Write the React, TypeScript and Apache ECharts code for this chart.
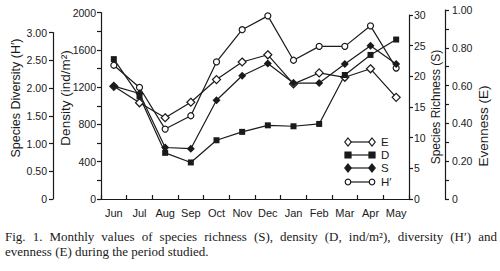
import React, { useEffect, useRef } from "react";
import * as echarts from "echarts";

const months = ["Jun", "Jul", "Aug", "Sep", "Oct", "Nov", "Dec", "Jan", "Feb", "Mar", "Apr", "May"];
const densityD = [1500, 1100, 495, 392, 630, 720, 790, 780, 805, 1330, 1545, 1710];
const richnessS = [18.4, 17.2, 8.4, 8.2, 16.1, 20.1, 22.1, 18.9, 18.9, 22.0, 25.0, 22.0];
const diversityH = [2.41, 2.01, 1.26, 1.5, 2.47, 3.05, 3.3, 2.5, 2.75, 2.75, 3.12, 2.36];
const evennessE = [0.596, 0.509, 0.43, 0.512, 0.632, 0.725, 0.763, 0.609, 0.667, 0.644, 0.689, 0.538];
const legendItems = ["E", "D", "S", "H\u2032"];
const axisNames = ["Species Diversity (H\u2032)", "Density (ind/m\u00B2)", "Species Richness (S)", "Evenness (E)"];
const captionLines = [
  "Fig. 1. Monthly values of species richness (S), density (D, ind/m\u00B2), diversity (H\u2032) and",
  "evenness (E) during the period studied.",
];

const SANS = "'Liberation Sans', Arial, sans-serif";
const SERIF = "'Liberation Serif', 'Times New Roman', serif";
const INK = "#1a1a1a";
const CAP_FONT = `13px ${SERIF}`;

const GL = 101;
const GR = 91;
const GB = 72;

function justifiedWords(line: string, x0: number, x1: number, y: number) {
  const words = line.split(" ");
  const cv = document.createElement("canvas");
  const ctx = cv.getContext("2d");
  let widths = words.map((w) => w.length * 6);
  if (ctx) {
    ctx.font = CAP_FONT;
    widths = words.map((w) => ctx.measureText(w).width);
  }
  const total = widths.reduce((a, b) => a + b, 0);
  const gap = (x1 - x0 - total) / Math.max(1, words.length - 1);
  let x = x0;
  return words.map((w, i) => {
    const el = {
      type: "text",
      x,
      y,
      style: { text: w, font: CAP_FONT, fill: INK, verticalAlign: "middle" },
    };
    x += widths[i] + gap;
    return el;
  });
}

function App() {
  const ref = useRef<HTMLDivElement>(null);
  useEffect(() => {
    document.body.style.margin = "0";
    if (!ref.current) return;
    const chart = echarts.init(ref.current, undefined, { renderer: "svg" });
    const axisLineStyle = { color: INK, width: 1.2 };
    const grids = [12.5, 32.5, 15, 10].map((top) => ({ left: GL, right: GR, bottom: GB, top }));
    const xAxes = grids.map((_, i) => ({
      type: "category",
      gridIndex: i,
      data: months,
      boundaryGap: true,
      show: i === 0,
      axisLine: { show: true, lineStyle: axisLineStyle },
      axisTick: { show: true, inside: true, length: 4, lineStyle: axisLineStyle },
      axisLabel: { color: INK, fontFamily: SANS, fontSize: 11, margin: 8, interval: 0 },
      splitLine: { show: false },
    }));
    const baseY = {
      type: "value",
      splitLine: { show: false },
      axisLine: { show: true, lineStyle: axisLineStyle },
      axisTick: { show: true, length: 4, lineStyle: axisLineStyle },
      minorTick: { show: false },
      axisLabel: { color: INK, fontFamily: SANS, fontSize: 10.5, margin: 5 },
    };
    const fix2 = (v: number) => (v === 0 ? "0" : v.toFixed(2));
    const namePos = [
      [16, 98, 12.5],
      [65, 98, 13.5],
      [436, 107, 12],
      [483, 126, 13.5],
    ];
    const option: any = {
      animation: false,
      backgroundColor: "#fff",
      grid: grids,
      xAxis: xAxes,
      yAxis: [
        {
          ...baseY,
          gridIndex: 0,
          position: "left",
          min: 0,
          max: 2000,
          interval: 400,
          minorTick: { show: true, splitNumber: 2, length: 4, lineStyle: axisLineStyle },
          axisLabel: { ...baseY.axisLabel, formatter: (v: number) => String(v) },
        },
        {
          ...baseY,
          gridIndex: 1,
          position: "left",
          offset: 48,
          min: 0,
          max: 3,
          interval: 0.5,
          axisLabel: { ...baseY.axisLabel, margin: 6, formatter: fix2 },
        },
        {
          ...baseY,
          gridIndex: 2,
          position: "right",
          min: 0,
          max: 30,
          interval: 5,
        },
        {
          ...baseY,
          gridIndex: 3,
          position: "right",
          offset: 36,
          min: 0,
          max: 1,
          interval: 0.2,
          minorTick: { show: true, splitNumber: 2, length: 4, lineStyle: axisLineStyle },
          axisLabel: { ...baseY.axisLabel, margin: 7, formatter: fix2 },
        },
      ],
      series: [
        {
          name: "E",
          type: "line",
          xAxisIndex: 3,
          yAxisIndex: 3,
          data: evennessE,
          symbol: "diamond",
          symbolSize: 8,
          itemStyle: { color: "#fff", borderColor: INK, borderWidth: 1.2 },
          lineStyle: { color: INK, width: 1.2 },
          clip: false,
        },
        {
          name: "H\u2032",
          type: "line",
          xAxisIndex: 1,
          yAxisIndex: 1,
          data: diversityH,
          symbol: "circle",
          symbolSize: 6,
          itemStyle: { color: "#fff", borderColor: INK, borderWidth: 1.2 },
          lineStyle: { color: INK, width: 1.2 },
          clip: false,
        },
        {
          name: "D",
          type: "line",
          xAxisIndex: 0,
          yAxisIndex: 0,
          data: densityD,
          symbol: "rect",
          symbolSize: 6,
          itemStyle: { color: INK },
          lineStyle: { color: INK, width: 1.2 },
          clip: false,
        },
        {
          name: "S",
          type: "line",
          xAxisIndex: 2,
          yAxisIndex: 2,
          data: richnessS,
          symbol: "diamond",
          symbolSize: 8,
          itemStyle: { color: INK },
          lineStyle: { color: INK, width: 1.2 },
          clip: false,
        },
      ],
      graphic: [
        ...axisNames.map((t, i) => ({
          type: "text",
          x: namePos[i][0],
          y: namePos[i][1],
          rotation: Math.PI / 2,
          style: {
            text: t,
            font: `${namePos[i][2]}px ${SANS}`,
            fill: INK,
            align: "center",
            verticalAlign: "middle",
          },
        })),
        ...legendItems.flatMap((label, i) => {
          const y = [142, 155, 168, 182][i];
          const filled = label === "D" || label === "S";
          const sym = label === "D" ? "rect" : label === "H\u2032" ? "circle" : "diamond";
          const mk = (cx: number) => {
            const style = { fill: filled ? INK : "#fff", stroke: INK, lineWidth: 1.2 };
            if (sym === "circle") return { type: "circle", shape: { cx, cy: y, r: 2.8 }, style };
            if (sym === "rect") return { type: "rect", shape: { x: cx - 3, y: y - 3, width: 6, height: 6 }, style };
            return {
              type: "polygon",
              shape: { points: [[cx, y - 4], [cx + 3.2, y], [cx, y + 4], [cx - 3.2, y]] },
              style,
            };
          };
          return [
            { type: "line", shape: { x1: 348, y1: y, x2: 372, y2: y }, style: { stroke: INK, lineWidth: 1.2 } },
            mk(348),
            mk(372),
            {
              type: "text",
              x: 381,
              y,
              style: { text: label, font: `11.5px ${SANS}`, fill: INK, verticalAlign: "middle" },
            },
          ];
        }),
        ...justifiedWords(captionLines[0], 5, 497, 236),
        {
          type: "text",
          x: 5,
          y: 251,
          style: { text: captionLines[1], font: CAP_FONT, fill: INK, verticalAlign: "middle" },
        },
      ],
    };
    chart.setOption(option);
    return () => chart.dispose();
  }, []);
  return <div ref={ref} style={{ width: 500, height: 271 }} />;
}

export default App;
